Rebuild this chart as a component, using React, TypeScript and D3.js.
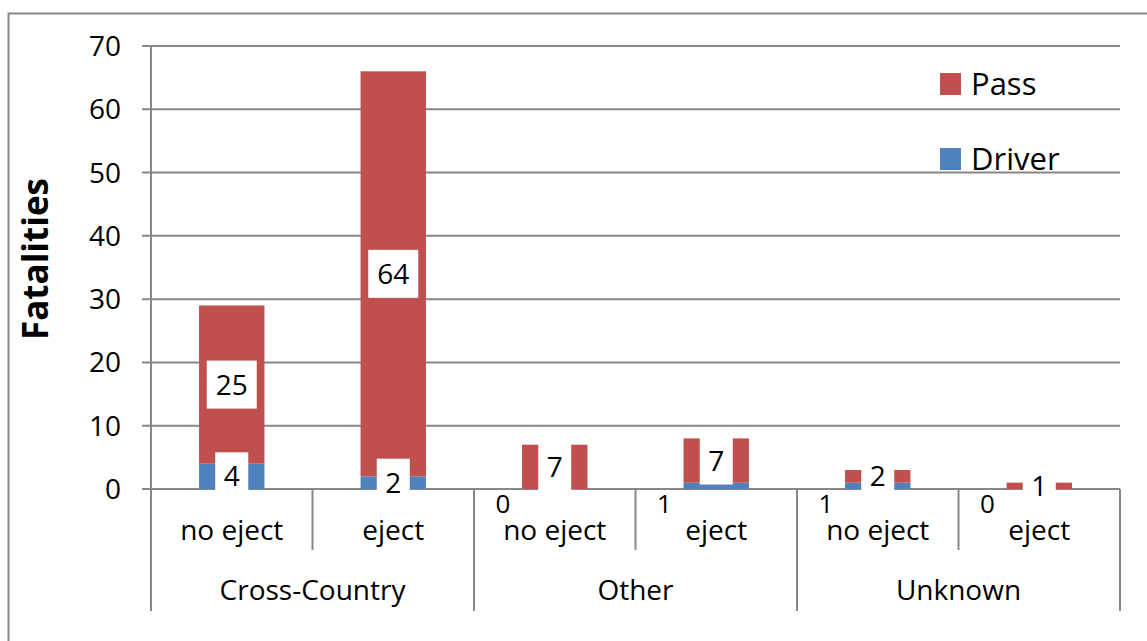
import React from "react";
import * as d3 from "d3";

const groups = ["Cross-Country", "Other", "Unknown"];
const subLabels = ["no eject", "eject", "no eject", "eject", "no eject", "eject"];
const driver = [4, 2, 0, 1, 1, 0];
const pass = [25, 64, 7, 7, 2, 1];
const yTicks = [0, 10, 20, 30, 40, 50, 60, 70];
const seriesNames = ["Pass", "Driver"];

const W = 1147;
const H = 641;
const RED = "#C0504D";
const BLUE = "#4F81BD";
const GRID = "#878787";
const FONT = "'Open Sans', sans-serif";

export default function App() {
  const left = 151;
  const right = 1120;
  const x = d3.scaleBand<number>().domain(d3.range(subLabels.length)).range([left, right]).padding(0);
  const gx = d3.scaleBand<string>().domain(groups).range([left, right]).padding(0);
  const y = d3.scaleLinear().domain([0, 70]).range([489, 46]);
  const bw = x.bandwidth() * 0.405;
  const y0 = y(0);

  const boxW = (s: string) => s.length * 17 + 16;
  const boxH = 48;

  return (
    <svg width={W} height={H} style={{ position: "absolute", left: 0, top: 0, background: "#fff" }} fontFamily={FONT}>
      <rect x={8.5} y={13.5} width={W + 20} height={H + 20} fill="#fff" stroke={GRID} strokeWidth={2} />
      {yTicks.map((t) => (
        <g key={t}>
          <line x1={142} x2={right} y1={y(t)} y2={y(t)} stroke={GRID} strokeWidth={2} />
          <text x={121} y={y(t) + 10} textAnchor="end" fontSize={28} fill="#000">
            {t}
          </text>
        </g>
      ))}
      <line x1={left} x2={left} y1={y(70)} y2={y0} stroke={GRID} strokeWidth={2} />
      {subLabels.map((_, i) => {
        const cx = (x(i) as number) + x.bandwidth() / 2;
        const bx = cx - bw / 2;
        return (
          <g key={i}>
            <rect x={bx} y={y(driver[i])} width={bw} height={y0 - y(driver[i])} fill={BLUE} />
            <rect x={bx} y={y(driver[i] + pass[i])} width={bw} height={y(driver[i]) - y(driver[i] + pass[i])} fill={RED} />
          </g>
        );
      })}
      {d3.range(subLabels.length + 1).map((i) => {
        const xx = i === subLabels.length ? right : (x(i) as number);
        const major = i % 2 === 0;
        return <line key={i} x1={xx} x2={xx} y1={y0} y2={major ? 611 : 550} stroke={GRID} strokeWidth={2} />;
      })}
      {subLabels.map((s, i) => (
        <text key={i} x={(x(i) as number) + x.bandwidth() / 2} y={540} textAnchor="middle" fontSize={28}>
          {s}
        </text>
      ))}
      {groups.map((g) => (
        <text key={g} x={(gx(g) as number) + gx.bandwidth() / 2} y={600} textAnchor="middle" fontSize={28}>
          {g}
        </text>
      ))}
      {subLabels.map((_, i) => {
        const cx = (x(i) as number) + x.bandwidth() / 2;
        const bx = cx - bw / 2;
        const pc = y(driver[i] + pass[i] / 2);
        const ps = String(pass[i]);
        const ds = String(driver[i]);
        const dc = y(driver[i] / 2);
        return (
          <g key={i}>
            <rect x={cx - boxW(ps) / 2} y={pc - boxH / 2} width={boxW(ps)} height={boxH} fill="#fff" />
            <text x={cx} y={pc + 10} textAnchor="middle" fontSize={28}>
              {ps}
            </text>
            {driver[i] > 1 ? (
              <g>
                <rect x={cx - boxW(ds) / 2} y={dc - boxH / 2} width={boxW(ds)} height={boxH} fill="#fff" />
                <text x={cx} y={dc + 10} textAnchor="middle" fontSize={28}>
                  {ds}
                </text>
              </g>
            ) : (
              <text x={bx - 19} y={y0 + 24} textAnchor="middle" fontSize={26}>
                {ds}
              </text>
            )}
          </g>
        );
      })}
      <text transform={`translate(48,259) rotate(-90)`} textAnchor="middle" fontSize={35} fontWeight="bold">
        Fatalities
      </text>
      {seriesNames.map((n, i) => (
        <g key={n} transform={`translate(940,${73 + i * 75})`}>
          <rect x={0} y={0} width={21} height={22} fill={n === "Pass" ? RED : BLUE} />
          <text x={31} y={22} fontSize={31}>
            {n}
          </text>
        </g>
      ))}
    </svg>
  );
}
